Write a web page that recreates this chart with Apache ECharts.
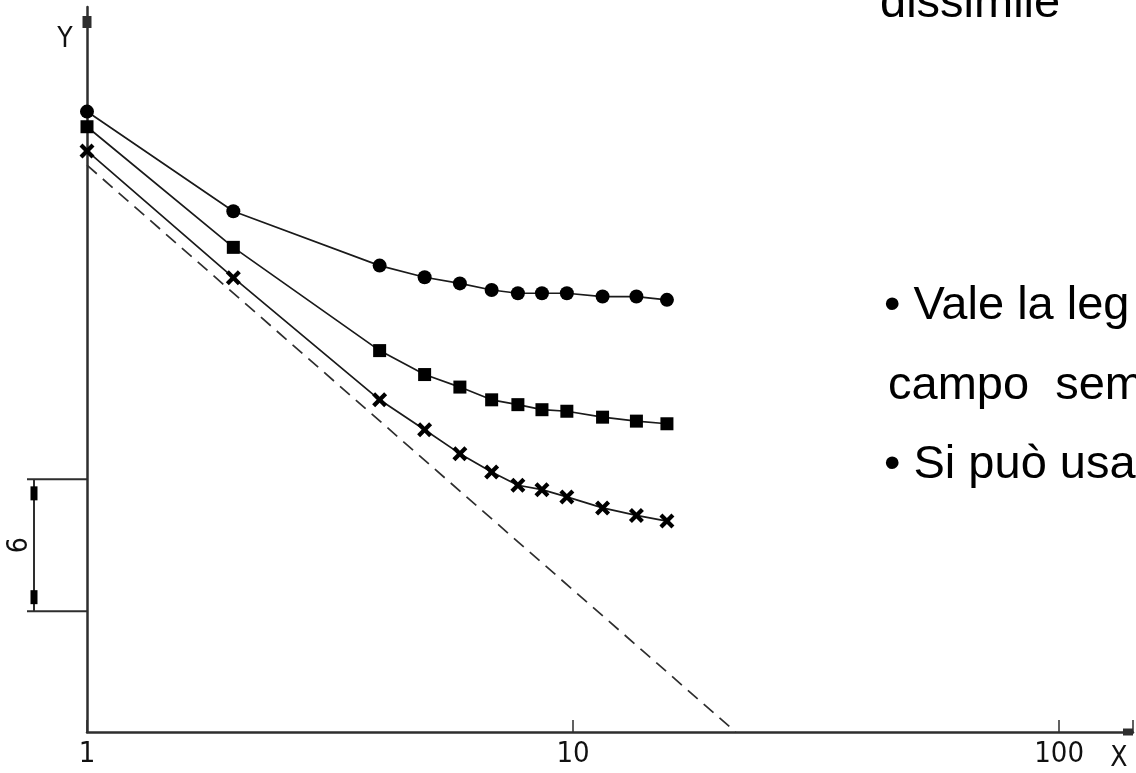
<!DOCTYPE html>
<html><head><meta charset="utf-8">
<script src="https://cdn.jsdelivr.net/npm/echarts@6/dist/echarts.min.js"></script>
<style>html,body{margin:0;padding:0;background:#fff}#c{width:1136px;height:773px}</style>
</head><body><div id="c"></div>
<script>
// ---- data ----
const xValues = [1, 2, 4, 4.95, 5.85, 6.8, 7.7, 8.63, 9.71, 11.5, 13.5, 15.6];
const circleY = [28.24, 23.70, 21.23, 20.70, 20.42, 20.12, 19.97, 19.97, 19.97, 19.82, 19.82, 19.67];
const squareY = [27.55, 22.06, 17.36, 16.27, 15.70, 15.12, 14.90, 14.67, 14.60, 14.33, 14.15, 14.03];
const crossY  = [26.45, 20.68, 15.12, 13.76, 12.67, 11.83, 11.23, 11.03, 10.70, 10.20, 9.86, 9.60];
const dashedX = [1, 21.6];
const dashedY = [25.8, 0];
const xTickLabels = ['1', '10', '100'];
const xAxisName = 'X';
const yAxisName = 'Y';
const bracketRange = [5.5, 11.5];
const bracketLabel = '6';
const textLines = ['dissimile', '\u2022 Vale la leg', 'campo  sem', '\u2022 Si pu\u00f2 usa'];

const chart = echarts.init(document.getElementById('c'), null, {renderer: 'canvas'});
const AX = '#2e2e2e';
const labelFont = '"DejaVu Sans Condensed", "DejaVu Sans", sans-serif';
const crossPath = 'path://M0,2 L2,0 L5,3 L8,0 L10,2 L7,5 L10,8 L8,10 L5,7 L2,10 L0,8 L3,5 Z';

function pts(ys) { return xValues.map((x, i) => [x, ys[i]]); }
function markerSeries(ys, symbol, size) {
  return {
    type: 'line', data: pts(ys), symbol: symbol, symbolSize: size, showAllSymbol: true,
    itemStyle: {color: '#000'}, lineStyle: {color: '#1a1a1a', width: 1.7}, z: 3
  };
}

chart.setOption({
  animation: false,
  backgroundColor: '#fff',
  grid: {left: 87, right: 0, top: 7, bottom: 41},
  xAxis: {
    type: 'log', logBase: 10, min: 1, max: 141.9,
    axisLine: {lineStyle: {color: AX, width: 2.5}, symbol: ['none', 'rect'], symbolSize: [7, 10], symbolOffset: [0, -5]},
    axisTick: {show: true, inside: true, length: 12, lineStyle: {color: AX, width: 1.5}},
    minorTick: {show: false},
    splitLine: {show: false},
    axisLabel: {
      margin: 8, fontSize: 29, color: '#111', fontFamily: labelFont,
      formatter: function (v) { const s = String(Math.round(v)); return xTickLabels.indexOf(s) >= 0 ? s : ''; }
    }
  },
  yAxis: {
    type: 'value', min: 0, max: 33,
    axisLine: {show: true, lineStyle: {color: AX, width: 2.5}, symbol: ['none', 'rect'], symbolSize: [9, 12], symbolOffset: [0, -15]},
    axisTick: {show: false}, axisLabel: {show: false}, splitLine: {show: false}
  },
  series: [
    markerSeries(circleY, 'circle', 14),
    markerSeries(squareY, 'rect', 13),
    markerSeries(crossY, crossPath, 15),
    {
      type: 'line', data: dashedX.map((x, i) => [x, dashedY[i]]), symbol: 'none',
      lineStyle: {color: AX, width: 1.7, type: [13, 8]}, z: 2
    }
  ]
});

// decorations positioned through the axes
const yTop = chart.convertToPixel({yAxisIndex: 0}, bracketRange[1]);
const yBot = chart.convertToPixel({yAxisIndex: 0}, bracketRange[0]);
const x0 = chart.convertToPixel({xAxisIndex: 0}, 1);
const bx = 34;
const lineStyle = {stroke: AX, lineWidth: 2};
const textFont = '"Liberation Sans", Arial, sans-serif';
const fs = 47;
chart.setOption({
  graphic: [
    {type: 'line', shape: {x1: bx, y1: yTop, x2: bx, y2: yBot}, style: lineStyle},
    {type: 'line', shape: {x1: 27, y1: yTop, x2: x0, y2: yTop}, style: lineStyle},
    {type: 'line', shape: {x1: 27, y1: yBot, x2: x0, y2: yBot}, style: lineStyle},
    {type: 'rect', shape: {x: bx - 3.5, y: yTop + 7, width: 7, height: 14}, style: {fill: '#000'}},
    {type: 'rect', shape: {x: bx - 3.5, y: yBot - 21, width: 7, height: 14}, style: {fill: '#000'}},
    {type: 'text', x: 20, y: (yTop + yBot) / 2, rotation: Math.PI / 2,
      style: {text: bracketLabel, fontSize: 28, fontFamily: labelFont, fill: '#111', align: 'center', verticalAlign: 'middle'}},
    {type: 'text', x: 65, y: 40, style: {text: yAxisName, fontSize: 28, fontFamily: labelFont, fill: '#111', align: 'center', verticalAlign: 'middle'}},
    {type: 'text', x: 1119, y: 759, style: {text: xAxisName, fontSize: 28, fontFamily: labelFont, fill: '#111', align: 'center', verticalAlign: 'middle'}},
    {type: 'text', x: 880, y: 4, style: {text: textLines[0], fontSize: fs, fontFamily: textFont, fill: '#000', align: 'left', verticalAlign: 'middle'}},
    {type: 'text', x: 884, y: 306, style: {text: textLines[1], fontSize: fs, fontFamily: textFont, fill: '#000', align: 'left', verticalAlign: 'middle'}},
    {type: 'text', x: 888, y: 386, style: {text: textLines[2], fontSize: fs, fontFamily: textFont, fill: '#000', align: 'left', verticalAlign: 'middle'}},
    {type: 'text', x: 884, y: 465, style: {text: textLines[3], fontSize: fs, fontFamily: textFont, fill: '#000', align: 'left', verticalAlign: 'middle'}}
  ]
});
</script></body></html>
